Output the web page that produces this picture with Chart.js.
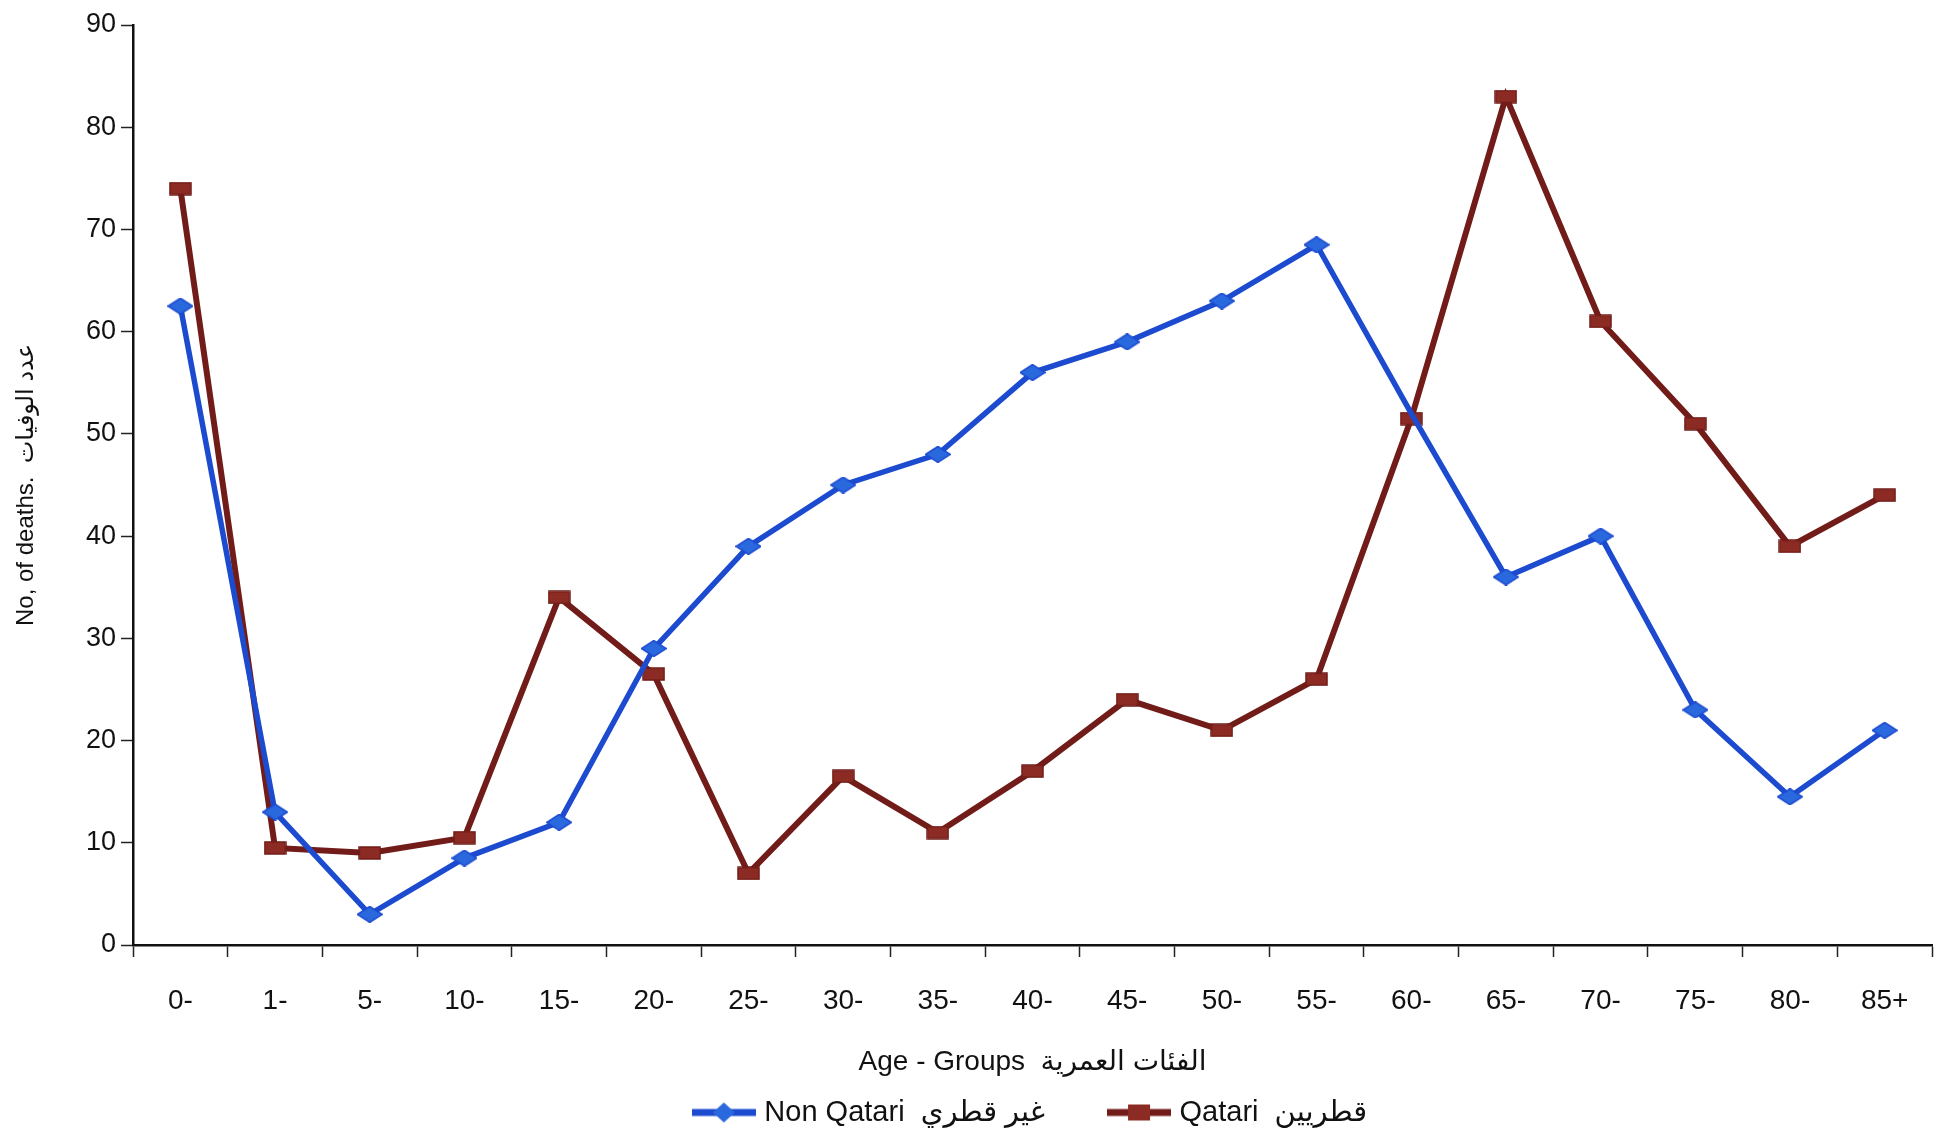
<!DOCTYPE html>
<html>
<head>
<meta charset="utf-8">
<script src="https://cdn.jsdelivr.net/npm/chart.js@4/dist/chart.umd.min.js"></script>
<style>
  html, body { margin: 0; padding: 0; background: #fff; }
  #wrap { width: 1948px; height: 1130px; position: relative; }
</style>
</head>
<body>
<div id="wrap"><canvas id="c" width="1948" height="1130"></canvas></div>
<script>
const ageGroups = ['0-', '1-', '5-', '10-', '15-', '20-', '25-', '30-', '35-', '40-', '45-', '50-', '55-', '60-', '65-', '70-', '75-', '80-', '85+'];
const nonQatari = [62.5, 13, 3, 8.5, 12, 29, 39, 45, 48, 56, 59, 63, 68.5, 52, 36, 40, 23, 14.5, 21];
const qatari    = [74, 9.5, 9, 10.5, 34, 26.5, 7, 16.5, 11, 17, 24, 21, 26, 51.5, 83, 61, 51, 39, 44];
const yTicks = [0, 10, 20, 30, 40, 50, 60, 70, 80, 90];
const seriesNames = ['Non Qatari  غير قطري', 'Qatari  قطريين'];
const xTitle = 'Age - Groups  الفئات العمرية';
const yTitle = 'No, of deaths.  عدد الوفيات';

const BLUE_LINE = '#1c4bd0';
const BLUE_PT = '#2a68de';
const BROWN_LINE = '#721c19';
const BROWN_PT = '#8c2b23';

function markerCanvas(shape, fill, edge) {
  const cv = document.createElement('canvas');
  const w = shape === 'rect' ? 23 : 26;
  const h = shape === 'rect' ? 14 : 17;
  cv.width = w; cv.height = h;
  const g = cv.getContext('2d');
  g.fillStyle = fill; g.strokeStyle = edge; g.lineWidth = 1.5;
  g.beginPath();
  if (shape === 'rect') {
    g.rect(1, 1, w - 2, h - 2);
  } else {
    g.moveTo(w / 2, 0.5); g.lineTo(w - 0.5, h / 2); g.lineTo(w / 2, h - 0.5); g.lineTo(0.5, h / 2); g.closePath();
  }
  g.fill(); g.stroke();
  return cv;
}
function legendIcon(lineColor, ptColor, shape) {
  const cv = document.createElement('canvas');
  cv.width = 64; cv.height = 22;
  const g = cv.getContext('2d');
  g.strokeStyle = lineColor; g.lineWidth = 7;
  g.beginPath(); g.moveTo(0, 11); g.lineTo(64, 11); g.stroke();
  g.fillStyle = ptColor;
  if (shape === 'rect') {
    g.fillRect(21, 3, 22, 16);
  } else {
    g.beginPath(); g.moveTo(32, 1); g.lineTo(43, 11); g.lineTo(32, 21); g.lineTo(21, 11); g.closePath(); g.fill();
  }
  return cv;
}
const blueMarker = markerCanvas('diamond', BLUE_PT, BLUE_LINE);
const brownMarker = markerCanvas('rect', BROWN_PT, BROWN_LINE);
const icons = [legendIcon(BLUE_LINE, BLUE_PT, 'rectRot'), legendIcon(BROWN_LINE, BROWN_PT, 'rect')];

const axisFont = "'Liberation Sans', Arial, 'DejaVu Sans', sans-serif";

new Chart(document.getElementById('c'), {
  type: 'line',
  data: {
    labels: ageGroups,
    datasets: [
      {
        label: seriesNames[0],
        data: nonQatari,
        borderColor: BLUE_LINE,
        backgroundColor: BLUE_PT,
        borderWidth: 5.5,
        pointStyle: blueMarker,
        pointRadius: ageGroups.map(a => a === '60-' ? 0 : 10),
        tension: 0
      },
      {
        label: seriesNames[1],
        data: qatari,
        borderColor: BROWN_LINE,
        backgroundColor: BROWN_PT,
        borderWidth: 6,
        pointStyle: brownMarker,
        pointRadius: 10,
        tension: 0
      }
    ]
  },
  options: {
    responsive: false,
    animation: false,
    layout: { padding: { top: 25, right: 4, left: 0, bottom: -7 } },
    plugins: {
      tooltip: { enabled: false },
      legend: {
        position: 'bottom',
        fullSize: false,
        labels: {
          color: '#111',
          font: { family: axisFont, size: 29 },
          usePointStyle: true,
          pointStyleWidth: 52,
          boxHeight: 22,
          padding: 68,
          generateLabels: (chart) => chart.data.datasets.map((ds, i) => ({
            text: ds.label,
            pointStyle: icons[i],
            fillStyle: ds.backgroundColor,
            strokeStyle: ds.borderColor,
            lineWidth: 0,
            hidden: false,
            datasetIndex: i,
            fontColor: '#111'
          }))
        }
      }
    },
    scales: {
      x: {
        type: 'category',
        offset: true,
        afterFit: (s) => { s.height = 85; },
        grid: { display: true, drawOnChartArea: false, offset: true, tickLength: 12, color: '#222', tickWidth: 1.5 },
        border: { display: true, color: '#111', width: 2.5 },
        ticks: { color: '#111', font: { family: axisFont, size: 28 }, padding: 27, maxRotation: 0, autoSkip: false },
        title: { display: true, text: xTitle, color: '#111', font: { family: axisFont, size: 28 }, padding: { top: 0, bottom: -49 } }
      },
      y: {
        min: 0,
        max: 90,
        afterFit: (s) => { s.width = 133; },
        afterBuildTicks: (s) => { s.ticks = yTicks.map(v => ({ value: v })); },
        grid: { display: true, drawOnChartArea: false, tickLength: 12, color: '#222', tickWidth: 1.5 },
        border: { display: true, color: '#111', width: 2.5 },
        ticks: { color: '#111', font: { family: axisFont, size: 27 }, padding: 5 },
        title: { display: true, text: yTitle, color: '#111', font: { family: axisFont, size: 24 }, padding: { top: 12, bottom: 0 } }
      }
    }
  }
});
</script>
</body>
</html>
